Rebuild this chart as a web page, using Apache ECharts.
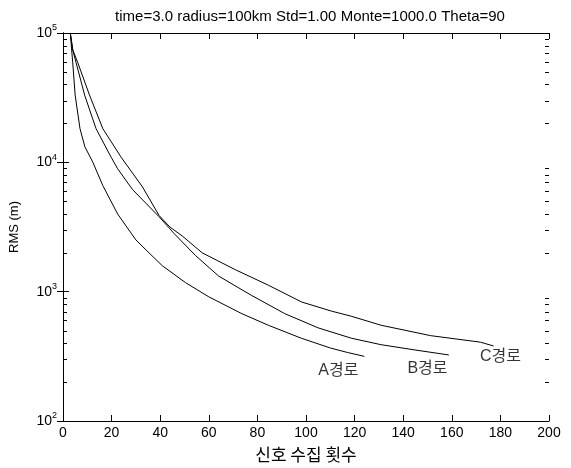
<!DOCTYPE html>
<html>
<head>
<meta charset="utf-8">
<script src="https://cdn.jsdelivr.net/npm/echarts@6/dist/echarts.min.js"></script>
<style>html,body{margin:0;padding:0;background:#fff;}#c{width:571px;height:468px;}</style>
</head>
<body>
<div id="c"></div>
<script>
// ---- data (x = 신호 수집 횟수, y = RMS in m) ----
const titleText = 'time=3.0 radius=100km Std=1.00 Monte=1000.0 Theta=90';
const xTicks = [0, 20, 40, 60, 80, 100, 120, 140, 160, 180, 200];
const yMajorTicks = [100, 1000, 10000, 100000];
const yMinorTicks = [200,300,400,500,600,700,800,900,2000,3000,4000,5000,6000,7000,8000,9000,20000,30000,40000,50000,60000,70000,80000,90000];

const seriesA = [[3,100000],[4,58884],[5,33113],[7,18197],[9,13200],[12.3,10000],[16.4,6607],[22.5,3981],[30,2512],[35.4,1995],[40.9,1585],[50.4,1175],[60,912],[73.6,676],[84.5,550],[98,437],[110,367],[117,339],[124,316]];
const seriesB = [[3,100000],[4,74131],[5.4,58884],[8.9,33113],[13.6,18197],[19.8,10965],[22.5,8913],[28.6,6166],[39.5,3802],[45.7,2818],[54.5,1905],[64.1,1318],[77.7,933],[91.3,676],[105,525],[118.6,437],[130.9,389],[144.5,355],[158.8,324]];
const seriesC = [[3,100000],[4,74131],[6.1,58884],[10.9,33113],[16.4,18197],[23.9,10965],[32.7,6457],[39.5,3890],[44,3162],[49.1,2692],[57.3,1995],[70.9,1479],[84.5,1122],[98.2,832],[110.4,708],[118.6,646],[130.9,550],[151.3,457],[171.8,407],[177.2,380]];

const pathLabels = ['A경로', 'B경로', 'C경로'];
const pathLabelAnchors = [[113.3,244],[150,252],[180,316]];

const chart = echarts.init(document.getElementById('c'), null, {renderer:'canvas'});
const font = 'Liberation Sans, Arial, sans-serif';
const lineStyle = {color:'#000', width:1};
const lineBase = {type:'line', showSymbol:false, symbol:'none', lineStyle:lineStyle, silent:true, smooth:false};

chart.setOption({
  backgroundColor:'#fff',
  animation:false,
  title:{text:titleText, left:305, top:4, textAlign:'center',
    textStyle:{fontFamily:font, fontSize:15, fontWeight:'normal', color:'#000'}},
  grid:{left:60, right:22, top:33, bottom:40, containLabel:false},
  xAxis:[{
    type:'value', min:xTicks[0], max:xTicks[xTicks.length-1], interval:20, position:'bottom',
    name:'신호 수집 횟수', nameLocation:'middle', nameGap:25,
    nameTextStyle:{fontFamily:'Noto Sans CJK KR', fontSize:17, color:'#000'},
    axisLine:{lineStyle:{color:'#000', width:1}},
    axisTick:{inside:true, length:6, lineStyle:{color:'#000'}},
    axisLabel:{fontFamily:font, fontSize:14, color:'#000', margin:5},
    splitLine:{show:false}
  },{
    type:'value', min:xTicks[0], max:xTicks[xTicks.length-1], interval:20, position:'top',
    axisLine:{lineStyle:{color:'#000', width:1}},
    axisTick:{inside:true, length:6, lineStyle:{color:'#000'}},
    axisLabel:{show:false}, splitLine:{show:false}
  }],
  yAxis:[{
    type:'log', logBase:10, min:yMajorTicks[0], max:yMajorTicks[yMajorTicks.length-1], position:'left',
    name:'RMS (m)', nameLocation:'middle', nameGap:42, nameRotate:90,
    nameTextStyle:{fontFamily:font, fontSize:13, color:'#000'},
    axisLine:{show:true, lineStyle:{color:'#000', width:1}},
    axisTick:{show:true, inside:true, length:6, lineStyle:{color:'#000'}},
    axisLabel:{color:'#000', margin:6,
      formatter:function(v){ const e = Math.round(Math.log10(v)); return '{a|10}{b|' + e + '}'; },
      rich:{a:{fontFamily:font, fontSize:14, color:'#000'}, b:{fontFamily:font, fontSize:9, color:'#000', padding:[0,0,10,0]}}},
    splitLine:{show:false}
  },{
    type:'log', logBase:10, min:yMajorTicks[0], max:yMajorTicks[yMajorTicks.length-1], position:'right',
    axisLine:{show:true, lineStyle:{color:'#000', width:1}},
    axisTick:{show:true, inside:true, length:6, lineStyle:{color:'#000'}},
    axisLabel:{show:false}, splitLine:{show:false}
  }],
  series:[
    Object.assign({data:seriesA}, lineBase),
    Object.assign({data:seriesB}, lineBase),
    Object.assign({data:seriesC}, lineBase),
    {type:'custom', silent:true, clip:false, z:10,
      data:yMinorTicks.map(v=>[xTicks[0], v]),
      renderItem:function(params, api){
        const pL = api.coord([xTicks[0], api.value(1)]);
        const pR = api.coord([xTicks[xTicks.length-1], api.value(1)]);
        const y = Math.round(pL[1]) + 0.5;
        const xl = Math.round(pL[0]);
        const xr = Math.round(pR[0]);
        return {type:'group', children:[
          {type:'line', shape:{x1:xl, y1:y, x2:xl+4, y2:y}, style:{stroke:'#000', lineWidth:1}},
          {type:'line', shape:{x1:xr-4, y1:y, x2:xr, y2:y}, style:{stroke:'#000', lineWidth:1}}
        ]};
      }},
    {type:'scatter', symbolSize:0, silent:true,
      data:pathLabelAnchors.map((p,i)=>({value:p, name:pathLabels[i]})),
      label:{show:true, position:'inside', formatter:'{b}', color:'#000', fontSize:16,
        fontFamily:'Liberation Sans, Noto Sans CJK KR'}}
  ]
});
</script>
</body>
</html>
